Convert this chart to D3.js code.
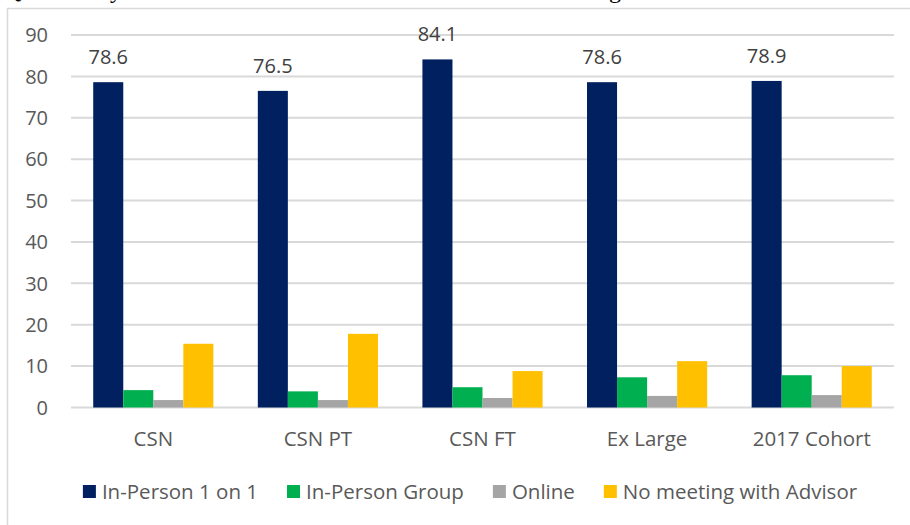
<!DOCTYPE html>
<html>
<head>
<meta charset="utf-8">
<script src="https://cdn.jsdelivr.net/npm/d3@7"></script>
<style>
  body { margin: 0; background: #fff; }
  text { font-family: "Open Sans", sans-serif; }
</style>
</head>
<body>
<div id="chart"></div>
<script>
// data
var categories = ["CSN", "CSN PT", "CSN FT", "Ex Large", "2017 Cohort"]
var seriesNames = ["In-Person 1 on 1", "In-Person Group", "Online", "No meeting with Advisor"]
var inPerson1on1 = [78.6, 76.5, 84.1, 78.6, 78.9]
var inPersonGroup = [4.2, 3.9, 4.9, 7.3, 7.8]
var online = [1.8, 1.8, 2.3, 2.8, 3.0]
var noMeeting = [15.4, 17.8, 8.8, 11.2, 10.0]
var yTicks = [0, 10, 20, 30, 40, 50, 60, 70, 80, 90]

var colors = ["#002060", "#00B050", "#A5A5A5", "#FFC000"]
var seriesValues = [inPerson1on1, inPersonGroup, online, noMeeting]

var width = 910
    height = 525

var svg = d3.select("#chart")
  .append("svg")
    .attr("width", width)
    .attr("height", height)

// title above is cut off by the picture edge, only descenders show
svg.selectAll(".frag")
  .data([["Q", 4], ["y", 110], ["g", 609]])
  .enter()
  .append("text")
  .attr("x", d => d[1])
  .attr("y", -2)
  .style("font-family", "'Liberation Serif', serif")
  .style("font-size", "24px")
  .style("fill", "#000")
  .text(d => d[0])

// chart area border
svg.append("rect")
  .attr("x", 7.5)
  .attr("y", 8.5)
  .attr("width", 1000)
  .attr("height", 600)
  .attr("fill", "none")
  .attr("stroke", "#d9d9d9")
  .attr("stroke-width", 1.5)

var plotLeft = 71, plotRight = 894

var y = d3.scaleLinear()
  .domain([0, 90])
  .range([407.5, 35])

var x0 = d3.scaleBand()
  .domain(categories)
  .range([plotLeft, plotRight])
  .paddingInner(0.27)
  .paddingOuter(0.135)

var x1 = d3.scaleBand()
  .domain(d3.range(seriesNames.length))
  .range([0, x0.bandwidth()])

// gridlines
svg.selectAll(".grid")
  .data(yTicks)
  .enter()
  .append("line")
  .attr("x1", plotLeft)
  .attr("x2", plotRight)
  .attr("y1", d => y(d))
  .attr("y2", d => y(d))
  .attr("stroke", "#d9d9d9")
  .attr("stroke-width", 2)

// y tick labels
svg.selectAll(".ytick")
  .data(yTicks)
  .enter()
  .append("text")
  .attr("x", 48)
  .attr("y", d => y(d))
  .attr("dy", "0.36em")
  .style("text-anchor", "end")
  .style("font-size", "20px")
  .style("fill", "#595959")
  .text(d => d)

// bars
var groups = svg.selectAll(".group")
  .data(categories)
  .enter()
  .append("g")
  .attr("transform", d => "translate(" + x0(d) + ",0)")

groups.selectAll("rect")
  .data((d, i) => seriesValues.map((s, j) => ({ s: j, v: s[i] })))
  .enter()
  .append("rect")
  .attr("x", d => x1(d.s))
  .attr("width", x1.bandwidth())
  .attr("y", d => y(d.v))
  .attr("height", d => y(0) - y(d.v))
  .attr("fill", d => colors[d.s])

// value labels for the first series
groups.append("text")
  .attr("x", x1(0) + x1.bandwidth() / 2)
  .attr("y", (d, i) => y(inPerson1on1[i]) - 18)
  .style("text-anchor", "middle")
  .style("font-size", "20px")
  .style("fill", "#404040")
  .text((d, i) => inPerson1on1[i].toFixed(1))

// category labels
svg.selectAll(".cat")
  .data(categories)
  .enter()
  .append("text")
  .attr("x", d => x0(d) + x0.bandwidth() / 2)
  .attr("y", 446)
  .style("text-anchor", "middle")
  .style("font-size", "20.5px")
  .style("fill", "#595959")
  .text(d => d)

// legend
var legend = svg.append("g")
var xpos = 0
seriesNames.forEach(function(name, i) {
  var item = legend.append("g").attr("transform", "translate(" + xpos + ",0)")
  item.append("rect")
    .attr("x", 0)
    .attr("y", 485)
    .attr("width", 13)
    .attr("height", 13)
    .attr("fill", colors[i])
  var t = item.append("text")
    .attr("x", 19)
    .attr("y", 499)
    .style("font-size", "20.5px")
    .style("fill", "#595959")
    .text(name)
  xpos += 19 + t.node().getComputedTextLength() + 29
})
var legendWidth = xpos - 29
legend.attr("transform", "translate(" + (470 - legendWidth / 2) + ",0)")
</script>
</body>
</html>
